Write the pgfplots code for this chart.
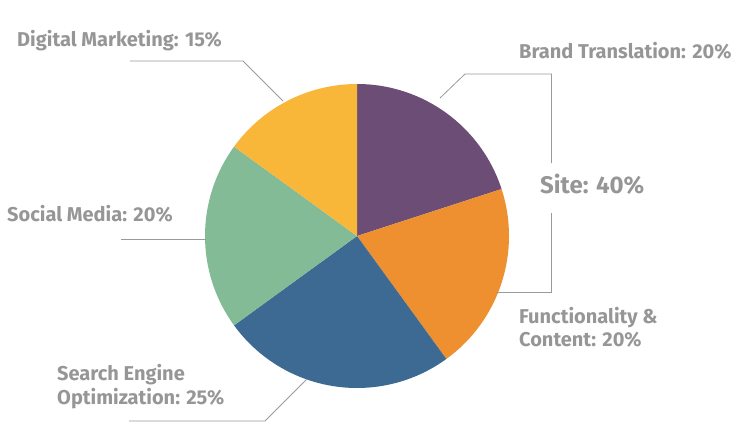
\documentclass[border=0pt]{standalone}
\usepackage{pgfplots}
\pgfplotsset{compat=1.18}
\usepackage{pgfplotstable}
\usepackage{fontspec}
\setmainfont{Fira Sans}
\definecolor{cPurple}{HTML}{6C4D75}
\definecolor{cOrange}{HTML}{EE8F30}
\definecolor{cBlue}{HTML}{3D6A93}
\definecolor{cGreen}{HTML}{82BB96}
\definecolor{cYellow}{HTML}{F9B73A}
\definecolor{txt}{HTML}{969696}
\definecolor{ln}{HTML}{9A9A9A}
\pgfplotstableread[col sep=comma]{
label,share,colour
Brand Translation,20,cPurple
Functionality and Content,20,cOrange
Search Engine Optimization,25,cBlue
Social Media,20,cGreen
Digital Marketing,15,cYellow
}\piedata
\begin{document}
\begin{tikzpicture}
\begin{axis}[
  scale only axis, width=749pt, height=436pt,
  xmin=0, xmax=749, ymin=0, ymax=436, y dir=reverse,
  hide axis, clip=false,
]
\pgfplotstablegetrowsof{\piedata}
\pgfmathtruncatemacro{\lastrow}{\pgfplotsretval-1}
\def\angA{90}
\pgfplotsforeachungrouped \i in {0,...,\lastrow} {
  \pgfplotstablegetelem{\i}{share}\of\piedata
  \let\sliceval\pgfplotsretval
  \pgfplotstablegetelem{\i}{colour}\of\piedata
  \let\slicecol\pgfplotsretval
  \pgfmathsetmacro{\angB}{\angA-3.6*\sliceval}
  \edef\temp{\noexpand\fill[\slicecol] (axis cs:357,236) -- ++(\angA:152pt) arc[start angle=\angA, end angle=\angB, radius=152pt] -- cycle;}
  \temp
  \global\let\angA\angB
}
% leader lines
\draw[ln, line width=0.8pt] (axis cs:130,61) -- (axis cs:243,61) -- (axis cs:283,101);
\draw[ln, line width=0.8pt] (axis cs:440,98) -- (axis cs:465,74) -- (axis cs:551.5,74) -- (axis cs:551.5,163);
\draw[ln, line width=0.8pt] (axis cs:551.5,213) -- (axis cs:551.5,292) -- (axis cs:496,292);
\draw[ln, line width=0.8pt] (axis cs:121,239) -- (axis cs:206,239);
\draw[ln, line width=0.8pt] (axis cs:129,421) -- (axis cs:265,421) -- (axis cs:307,379);
% labels
\begin{scope}[every node/.style={anchor=base west, inner sep=0pt, text=txt, font=\fontsize{20}{24}\selectfont\bfseries}]
\node at (axis cs:17,47) {Digital Marketing: 15\%};
\node at (axis cs:519,59) {Brand Translation: 20\%};
\node[font=\fontsize{24}{28}\selectfont\bfseries] at (axis cs:540,193) {Site: 40\%};
\node at (axis cs:519,323) {Functionality \&};
\node at (axis cs:519,346) {Content: 20\%};
\node at (axis cs:7,221) {Social Media: 20\%};
\node at (axis cs:57,380) {Search Engine};
\node at (axis cs:57,404) {Optimization: 25\%};
\end{scope}
\end{axis}
\pgfresetboundingbox
\path (0,0) rectangle (749pt,436pt);
\end{tikzpicture}
\end{document}
